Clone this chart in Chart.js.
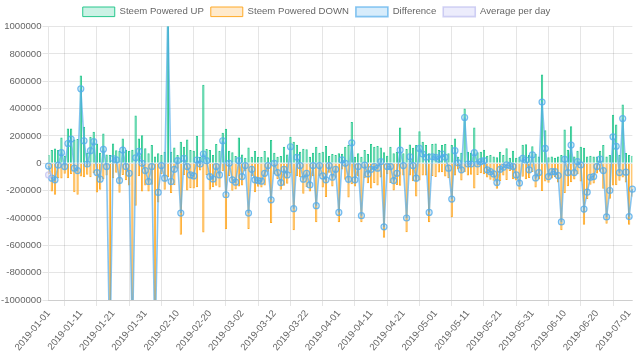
<!DOCTYPE html>
<html>
<head>
<meta charset="utf-8">
<script src="https://cdn.jsdelivr.net/npm/chart.js@4.4.1/dist/chart.umd.min.js"></script>
<style>
html,body{margin:0;padding:0;background:#fff;}
#wrap{position:relative;width:640px;height:361px;}
</style>
</head>
<body>
<div id="wrap"><canvas id="c"></canvas></div>
<script>
// Values in thousands
const startDate = '2019-01-01';
const endDate = '2019-07-02';
const missingDates = ['2019-06-25'];   // one day has no entry in the source
const upK = [
 60,97,109,97,189,53,255,255,175,177,
 642,267,78,194,230,145,78,218,65,60,
 145,95,90,182,100,90,100,350,182,206,
 110,73,133,50,73,61,85,1200,85,116,
 60,158,121,175,97,92,199,48,574,104,
 97,61,141,92,223,252,92,80,53,189,
 65,41,116,48,90,46,46,90,44,170,
 78,48,53,121,65,194,158,136,85,107,
 102,48,78,121,78,85,126,53,68,61,
 73,70,121,133,303,48,73,48,97,68,
 141,121,126,116,80,56,121,73,85,262,
 73,104,138,114,133,235,158,133,73,141,
 145,97,133,141,73,133,182,48,78,400,
 85,78,262,80,85,100,55,60,50,45,
 85,60,110,40,92,40,48,135,140,60,
 125,70,50,650,242,45,50,40,50,60,
 247,100,271,50,92,121,114,50,55,50,
 50,92,133,50,60,356,284,60,431,75,
 60,55];
const downK = [
 -80,-206,-230,-110,-111,-77,-110,-78,-211,-230,
 -97,-102,-83,-102,-72,-213,-194,-116,-89,-1500,
 -110,-70,-215,-85,-124,-163,-1400,-310,-95,-206,
 -163,-206,-157,-1400,-286,-78,-194,-100,-218,-160,
 -40,-522,-85,-199,-182,-184,-175,-53,-506,-85,
 -194,-175,-165,-177,-58,-482,-92,-201,-191,-170,
 -162,-58,-480,-92,-211,-172,-177,-163,-61,-437,
 -78,-116,-194,-165,-150,-73,-490,-92,-102,-223,
 -175,-206,-95,-431,-95,-177,-247,-70,-170,-105,
 -432,-45,-121,-250,-153,-169,-97,-431,-110,-146,
 -185,-145,-162,-104,-545,-80,-145,-199,-158,-165,
 -90,-504,-90,-131,-242,-126,-90,-89,-432,-93,
 -101,-68,-65,-97,-109,-395,-90,-45,-126,-65,
 -90,-83,-184,-85,-73,-81,-103,-121,-128,-186,
 -129,-89,-122,-57,-116,-125,-193,-99,-116,-108,
 -64,-177,-118,-202,-133,-142,-111,-101,-140,-489,
 -218,-168,-138,-118,-80,-133,-449,-261,-157,-147,
 -74,-62,-186,-442,-259,-162,-160,-128,-104,-140,
 -450,-244];
const diffK = [
 -20,-109,-121,-13,78,-24,145,177,-36,-53,
 545,165,-5,92,158,-68,-116,102,-24,-1440,
 35,25,-125,97,-24,-73,-1300,40,87,0,
 -53,-133,-24,-1350,-213,-17,-109,1100,-133,-44,
 20,-364,36,-24,-85,-92,24,-5,68,19,
 -97,-114,-24,-85,165,-230,0,-121,-138,19,
 -97,-17,-364,-44,-121,-126,-131,-73,-17,-267,
 0,-68,-141,-44,-85,121,-332,44,-17,-116,
 -73,-158,-17,-310,-17,-92,-121,-17,-102,-44,
 -359,25,0,-117,150,-121,-24,-383,-13,-78,
 -44,-24,-36,12,-465,-24,-24,-126,-73,97,
 -17,-400,48,-17,-109,109,68,44,-359,48,
 44,29,68,44,-36,-262,92,3,-48,335,
 -5,-5,78,-5,12,19,-48,-61,-78,-141,
 -44,-29,-12,-17,-24,-85,-145,36,24,-48,
 61,-107,-68,448,109,-97,-61,-61,-90,-429,
 29,-68,133,-68,12,-12,-335,-211,-102,-97,
 -24,30,-53,-392,-199,194,124,-68,327,-65,
 -390,-189];
const avgK = [-85];
const yTicks = [-1000000,-800000,-600000,-400000,-200000,0,200000,400000,600000,800000,1000000];
const unit = 1000;

// category labels: one per reported day
const labels = [];
{
  const d0 = new Date(startDate + 'T00:00:00Z');
  const d1 = new Date(endDate + 'T00:00:00Z');
  for (let t = d0.getTime(); t <= d1.getTime(); t += 86400000) {
    const s = new Date(t).toISOString().slice(0, 10);
    if (!missingDates.includes(s)) labels.push(s);
  }
}

const toUnits = a => a.map(v => v * unit);

Chart.defaults.font.family = "'Liberation Sans', Arial, Helvetica, sans-serif";
Chart.defaults.font.size = 9.6;
Chart.defaults.color = '#666';

new Chart(document.getElementById('c'), {
  type: 'bar',
  data: {
    labels: labels,
    datasets: [
      {
        label: 'Steem Powered UP',
        data: toUnits(upK),
        backgroundColor: 'rgba(46,204,150,0.25)',
        borderColor: 'rgb(40,200,142)',
        borderWidth: 1,
        order: 2
      },
      {
        label: 'Steem Powered DOWN',
        data: toUnits(downK),
        backgroundColor: 'rgba(255,172,51,0.25)',
        borderColor: 'rgb(255,170,40)',
        borderWidth: 1,
        order: 3
      },
      {
        type: 'line',
        label: 'Difference',
        data: toUnits(diffK),
        backgroundColor: 'rgba(54,162,235,0.2)',
        borderColor: 'rgba(84,172,235,0.7)',
        borderWidth: 1.6,
        pointRadius: 3,
        pointBorderWidth: 1.2,
        pointBorderColor: 'rgba(84,172,235,0.8)',
        pointBackgroundColor: 'rgba(54,162,235,0.2)',
        tension: 0,
        fill: false,
        order: 1
      },
      {
        type: 'line',
        label: 'Average per day',
        data: toUnits(avgK),
        backgroundColor: 'rgba(200,200,245,0.35)',
        borderColor: 'rgba(190,190,240,0.7)',
        borderWidth: 1.6,
        pointRadius: 3,
        pointBorderWidth: 1.2,
        fill: false,
        order: 0
      }
    ]
  },
  options: {
    responsive: true,
    maintainAspectRatio: false,
    animation: false,
    layout: { padding: { left: 0, right: 7, top: 0, bottom: 6 } },
    plugins: {
      legend: {
        position: 'top',
        labels: {
          boxWidth: 32,
          boxHeight: 9.6,
          padding: 7,
          color: '#666',
          font: { size: 9.6 },
          sort: (a, b) => a.datasetIndex - b.datasetIndex
        }
      },
      tooltip: { enabled: false }
    },
    scales: {
      x: {
        stacked: true,
        offset: false,
        grid: { color: 'rgba(0,0,0,0.1)', tickLength: 6 },
        ticks: {
          autoSkip: false,
          maxRotation: 50,
          minRotation: 50,
          padding: 2,
          callback: (v, i) => (i % 10 === 0 ? labels[i] : null)
        }
      },
      y: {
        min: yTicks[0],
        max: yTicks[yTicks.length - 1],
        afterBuildTicks: axis => { axis.ticks = yTicks.map(v => ({ value: v })); },
        grid: { color: 'rgba(0,0,0,0.1)', tickLength: 6 },
        ticks: {
          padding: 1,
          callback: v => String(v)
        }
      }
    }
  }
});
</script>
</body>
</html>
